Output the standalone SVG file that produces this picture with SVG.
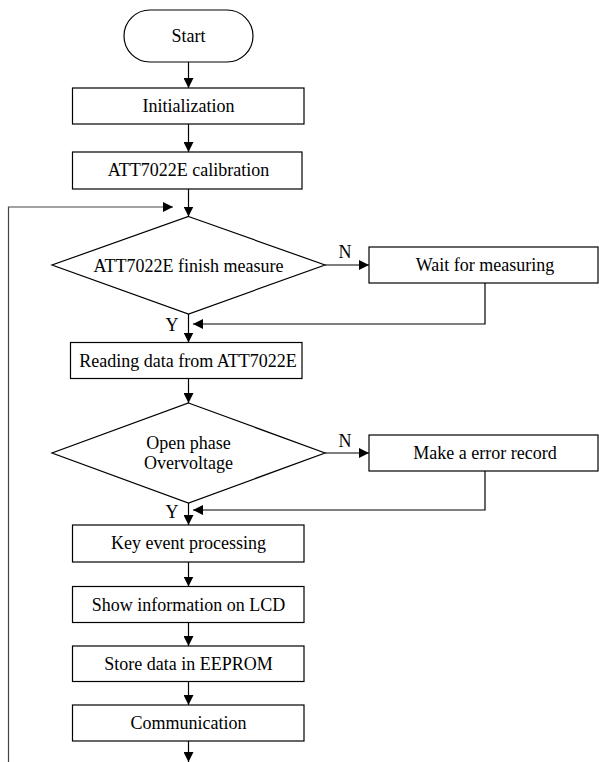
<svg xmlns="http://www.w3.org/2000/svg" width="599" height="762" viewBox="0 0 599 762">
<style>
.n{fill:#fff;stroke:#000;stroke-width:1.2}
.t{font-family:"Liberation Serif","Times New Roman",serif;font-size:18px;fill:#000;text-anchor:middle}
.c{fill:none;stroke:#000;stroke-width:1.2}
</style>
<defs>
<marker id="ar" viewBox="0 0 10 10" refX="10" refY="5" markerWidth="10" markerHeight="10" markerUnits="userSpaceOnUse" orient="auto">
<path d="M0,0 L10,5 L0,10 z" fill="#000"/>
</marker>
</defs>
<rect width="599" height="762" fill="#fff"/>
<g id="connectors">
<line class="c" x1="188.5" y1="62" x2="188.5" y2="88" marker-end="url(#ar)"/>
<line class="c" x1="188.5" y1="124" x2="188.5" y2="152" marker-end="url(#ar)"/>
<line class="c" x1="188.5" y1="189" x2="188.5" y2="216.5" marker-end="url(#ar)"/>
<path class="c" d="M8.5,762 L8.5,207 L173,207" marker-end="url(#ar)" style="stroke:#444"/>
<line class="c" x1="325" y1="265" x2="369" y2="265" marker-end="url(#ar)"/>
<path class="c" d="M485,283 L485,324 L193,324" marker-end="url(#ar)"/>
<line class="c" x1="188.5" y1="314" x2="188.5" y2="342.5" marker-end="url(#ar)"/>
<line class="c" x1="188.5" y1="378.5" x2="188.5" y2="403" marker-end="url(#ar)"/>
<line class="c" x1="325" y1="453" x2="369" y2="453" marker-end="url(#ar)"/>
<path class="c" d="M485,471 L485,510 L193,510" marker-end="url(#ar)"/>
<line class="c" x1="188.5" y1="503" x2="188.5" y2="525" marker-end="url(#ar)"/>
<line class="c" x1="188.5" y1="562" x2="188.5" y2="586.5" marker-end="url(#ar)"/>
<line class="c" x1="188.5" y1="622.5" x2="188.5" y2="646" marker-end="url(#ar)"/>
<line class="c" x1="188.5" y1="681.5" x2="188.5" y2="705" marker-end="url(#ar)"/>
<line class="c" x1="188.5" y1="741" x2="188.5" y2="762" marker-end="url(#ar)"/>
<text class="t" x="345" y="258">N</text>
<text class="t" x="172" y="331">Y</text>
<text class="t" x="345" y="447">N</text>
<text class="t" x="172" y="518">Y</text>
</g>
<g id="start">
<rect class="n" x="124" y="10" width="129" height="52" rx="26" ry="26"/>
<text class="t" x="188.5" y="42">Start</text>
</g>
<g id="init">
<rect class="n" x="72.5" y="88" width="231.5" height="36"/>
<text class="t" x="188.5" y="112">Initialization</text>
</g>
<g id="calib">
<rect class="n" x="72.5" y="152" width="229.5" height="37"/>
<text class="t" x="188.5" y="176">ATT7022E calibration</text>
</g>
<g id="finish">
<polygon class="n" points="188.5,216.5 325,265 188.5,314 52,265"/>
<text class="t" x="188.5" y="272">ATT7022E finish measure</text>
</g>
<g id="wait">
<rect class="n" x="369" y="247" width="229" height="36"/>
<text class="t" x="485" y="271">Wait for measuring</text>
</g>
<g id="read">
<rect class="n" x="70.5" y="342.5" width="231.5" height="36"/>
<text class="t" x="188" y="367">Reading data from ATT7022E</text>
</g>
<g id="phase">
<polygon class="n" points="188.5,403 325,453 188.5,503 52,453"/>
<text class="t" x="188.5" y="449">Open phase</text>
<text class="t" x="188.5" y="469">Overvoltage</text>
</g>
<g id="error">
<rect class="n" x="369" y="435" width="229" height="36"/>
<text class="t" x="485" y="459">Make a error record</text>
</g>
<g id="key">
<rect class="n" x="72.5" y="525" width="231.5" height="37"/>
<text class="t" x="188.5" y="549">Key event processing</text>
</g>
<g id="lcd">
<rect class="n" x="72.5" y="586.5" width="231.5" height="36"/>
<text class="t" x="188.5" y="611">Show information on LCD</text>
</g>
<g id="eeprom">
<rect class="n" x="72.5" y="646" width="231.5" height="35.5"/>
<text class="t" x="188.5" y="670">Store data in EEPROM</text>
</g>
<g id="comm">
<rect class="n" x="72.5" y="705" width="231.5" height="36"/>
<text class="t" x="188.5" y="729">Communication</text>
</g>
</svg>
